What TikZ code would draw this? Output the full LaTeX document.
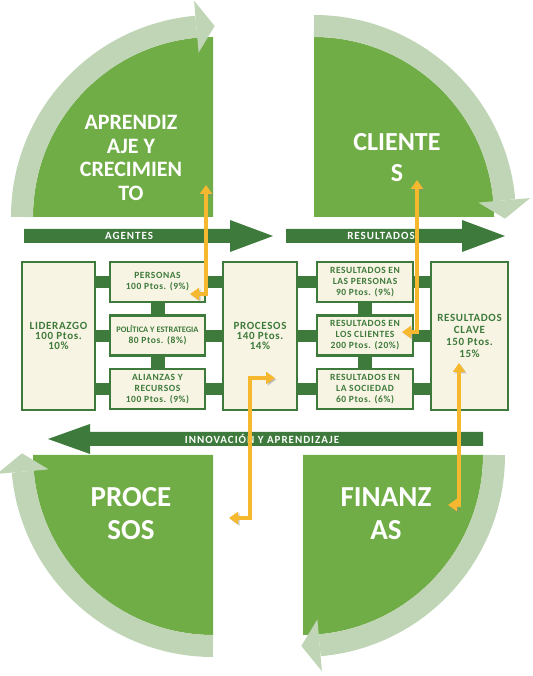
\documentclass[tikz,border=0pt]{standalone}
\usepackage{fontspec}
\setmainfont{Carlito}
\newfontfamily\widefont[LetterSpace=6]{Carlito}
\newfontfamily\labelfont[LetterSpace=9]{Carlito}
\usepackage{tikz}
\usetikzlibrary{calc,positioning,arrows.meta,backgrounds}
\definecolor{quadgreen}{HTML}{71AD47}
\definecolor{bandgreen}{HTML}{BFD5B6}
\definecolor{darkgreen}{HTML}{3D7A3B}
\definecolor{cream}{HTML}{F8F4E3}
\definecolor{gold}{HTML}{F5B82E}

\begin{document}
\begin{tikzpicture}[x=1pt, y=1pt, align=center,
    quad/.style={fill=quadgreen},
    band/.style={draw=bandgreen, line width=22},
    bandtip/.style={fill=bandgreen},
    quadlabel/.style={text=white, inner sep=0},
    box/.style={draw=darkgreen, line width=2.6, fill=cream, text=darkgreen, inner sep=1},
    smallbox/.style={box, minimum width=95, minimum height=40, font=\widefont\bfseries\fontsize{9.5}{11}\selectfont},
    tallbox/.style={box, minimum height=148, font=\widefont\bfseries\fontsize{11}{9.8}\selectfont},
    hbar/.style={draw=darkgreen, line width=12},
    vbar/.style={draw=darkgreen, line width=14},
    bigarrow/.style={fill=darkgreen},
    arrowlabel/.style={text=white, font=\labelfont\bfseries\fontsize{11}{12}\selectfont},
    flow/.style={draw=gold, line width=3.4, {Triangle[length=9pt,width=12pt]}-{Triangle[length=9pt,width=12pt]},
        preaction={draw=black!45, opacity=.4, transform canvas={shift={(1.5,-1.5)}}}}
]
    \useasboundingbox (0,0) rectangle (532,676);

    \coordinate (tl) at (213,459);
    \coordinate (tr) at (314,459);
    \coordinate (bl) at (213,221);
    \coordinate (br) at (303,221);

    % quadrants
    \fill[quad] (tl) -- ++(180:180) arc (180:90:180) -- cycle;
    \draw[band] (tl) ++(180:191) arc (180:95:191);
    \fill[bandtip] ($(tl)+(95:165)$) -- ($(tl)+(95:217)$) -- ($(tl)+(89.5:191)$) -- cycle;

    \fill[quad] (tr) -- ++(90:180) arc (90:0:180) -- cycle;
    \draw[band] (tr) ++(90:191) arc (90:5:191);
    \fill[bandtip] ($(tr)+(5:165)$) -- ($(tr)+(5:217)$) -- ($(tr)+(-0.5:191)$) -- cycle;

    \fill[quad] (bl) -- ++(-90:180) arc (-90:-180:180) -- cycle;
    \draw[band] (bl) ++(-90:191) arc (-90:-175:191);
    \fill[bandtip] ($(bl)+(-175:165)$) -- ($(bl)+(-175:217)$) -- ($(bl)+(-180.5:191)$) -- cycle;

    \fill[quad] (br) -- ++(0:180) arc (0:-90:180) -- cycle;
    \draw[band] (br) ++(0:191) arc (0:-85:191);
    \fill[bandtip] ($(br)+(-85:165)$) -- ($(br)+(-85:217)$) -- ($(br)+(-90.5:191)$) -- cycle;

    \node[quadlabel, font=\bfseries\fontsize{22}{23.5}\selectfont] (aprend) at (131,518) {APRENDIZ\\AJE Y\\CRECIMIEN\\TO};
    \node[quadlabel, font=\bfseries\fontsize{26}{31}\selectfont] (clientes) at (397,518) {CLIENTE\\S};
    \node[quadlabel, font=\bfseries\fontsize{29}{33}\selectfont] (procq) at (131,162) {PROCE\\SOS};
    \node[quadlabel, font=\bfseries\fontsize{29}{33}\selectfont] (finanzas) at (386,162) {FINANZ\\AS};

    % big arrows
    \fill[bigarrow] (24,433) -- (230,433) -- (230,424) -- (273,440) -- (230,456) -- (230,447) -- (24,447) -- cycle;
    \node[arrowlabel] (agentes) at (129,440) {AGENTES};
    \fill[bigarrow] (286,433) -- (462,433) -- (462,424) -- (505,440) -- (462,456) -- (462,447) -- (286,447) -- cycle;
    \node[arrowlabel] (resultados) at (381,440) {RESULTADOS};
    \fill[bigarrow] (483,230) -- (90,230) -- (90,222) -- (48,237) -- (90,252) -- (90,244) -- (483,244) -- cycle;
    \node[arrowlabel] (innov) at (262,237) {INNOVACIÓN Y APRENDIZAJE};

    % boxes
    \node[tallbox, minimum width=73] (lid) at (58.5,340) {LIDERAZGO\\100 Ptos.\\10\%};
    \node[smallbox] (per) at (157.5,394) {PERSONAS\\100 Ptos. (9\%)};
    \node[smallbox, below=11 of per] (pol) {{\fontspec{Carlito}\bfseries\fontsize{8.4}{10}\selectfont POLÍTICA Y ESTRATEGIA}\\80 Ptos. (8\%)};
    \node[smallbox, below=11 of pol] (ali) {ALIANZAS Y\\RECURSOS\\100 Ptos. (9\%)};
    \node[tallbox, minimum width=74] (proc) at (260,340) {PROCESOS\\140 Ptos.\\14\%};
    \node[smallbox, minimum width=96] (rper) at (365,394) {RESULTADOS EN\\LAS PERSONAS\\90 Ptos. (9\%)};
    \node[smallbox, minimum width=96, below=11 of rper] (rcli) {RESULTADOS EN\\LOS CLIENTES\\200 Ptos. (20\%)};
    \node[smallbox, minimum width=96, below=11 of rcli] (rsoc) {RESULTADOS EN\\LA SOCIEDAD\\60 Ptos. (6\%)};
    \node[tallbox, minimum width=77, font=\widefont\bfseries\fontsize{11}{11.8}\selectfont] (clave) at (469.5,340) {RESULTADOS\\CLAVE\\150 Ptos.\\15\%};

    \begin{scope}[on background layer]
        \draw[hbar] (per -| lid.east) -- (per -| clave.west);
        \draw[hbar] (pol -| lid.east) -- (pol -| clave.west);
        \draw[hbar] (ali -| lid.east) -- (ali -| clave.west);
        \draw[vbar] (per) -- (ali);
        \draw[vbar] (rper) -- (rsoc);
    \end{scope}

    % links to the quadrants
    \coordinate (f1a) at (206,491);
    \coordinate (f1b) at (190,382);
    \coordinate (f2a) at (417,496);
    \coordinate (f2b) at (402,344);
    \coordinate (f3a) at (459,313);
    \coordinate (f3b) at (448,171);
    \coordinate (f4a) at (275,298);
    \coordinate (f4b) at (229,158);
    \draw[flow] (f1a) |- (f1b);
    \draw[flow] (f2a) |- (f2b);
    \draw[flow] (f3a) |- (f3b);
    \draw[flow] (f4a) -| ($(f4b)+(21,0)$) -- (f4b);

\end{tikzpicture}
\end{document}
